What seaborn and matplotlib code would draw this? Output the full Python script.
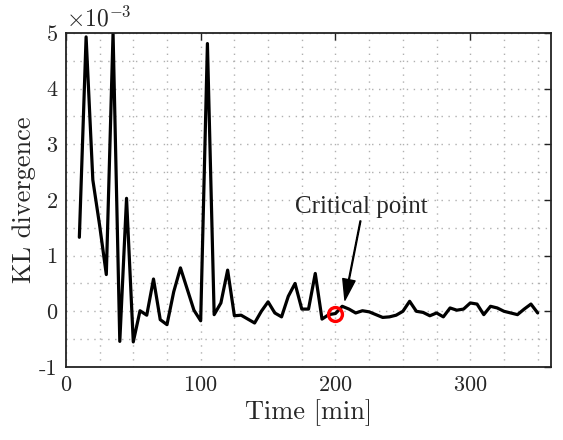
import numpy as np
import pandas as pd
import seaborn as sns
import matplotlib.pyplot as plt
from matplotlib.ticker import MultipleLocator, FuncFormatter

# Time axis [min] and KL divergence (in units of 1e-3)
time_min = [10, 15, 20, 25, 30, 35, 40, 45, 50, 55,
            60, 65, 70, 75, 80, 85, 90, 95, 100, 105,
            110, 115, 120, 125, 130, 135, 140, 145, 150, 155,
            160, 165, 170, 175, 180, 185, 190, 195, 200, 205,
            210, 215, 220, 225, 230, 235, 240, 245, 250, 255,
            260, 265, 270, 275, 280, 285, 290, 295, 300, 305,
            310, 315, 320, 325, 330, 335, 340, 345, 350]
kl_e3 = [1.33, 4.93, 2.36, 1.55, 0.66, 5.0, -0.54, 2.03, -0.55, 0.01,
         -0.07, 0.58, -0.15, -0.24, 0.35, 0.78, 0.40, 0.02, -0.17, 4.81,
         -0.06, 0.15, 0.74, -0.08, -0.07, -0.14, -0.21, 0.0, 0.17, -0.03,
         -0.10, 0.27, 0.50, 0.04, 0.04, 0.68, -0.14, -0.06, -0.04, 0.09,
         0.04, -0.03, 0.01, -0.01, -0.06, -0.11, -0.10, -0.07, 0.0, 0.18,
         0.0, -0.02, -0.08, -0.03, -0.10, 0.06, 0.02, 0.04, 0.15, 0.13,
         -0.06, 0.09, 0.06, 0.0, -0.03, -0.06, 0.04, 0.13, -0.03]
scale = 1e-3

crit_time = 200
crit_kl_e3 = -0.04
annot_text = "Critical point"

x_ticks = [0, 100, 200, 300]
y_ticks = [-1, 0, 1, 2, 3, 4, 5]

sns.set_style("white")
plt.rcParams['font.family'] = 'serif'
plt.rcParams['font.serif'] = ['cmr10', 'DejaVu Serif']
plt.rcParams['mathtext.fontset'] = 'cm'
plt.rcParams['axes.unicode_minus'] = False
plt.rcParams['axes.formatter.use_mathtext'] = True

df = pd.DataFrame({'time': time_min, 'kl': np.array(kl_e3) * scale})

fig = plt.figure(figsize=(5.63, 4.40), dpi=100)
ax = fig.add_axes([0.117, 0.166, 0.862, 0.759])

sns.lineplot(data=df, x='time', y='kl', color='black', linewidth=2.3, ax=ax)
ax.plot([crit_time], [crit_kl_e3 * scale], marker='o', markersize=10,
        markerfacecolor='none', markeredgecolor='red', markeredgewidth=2.4,
        linestyle='none', zorder=5)

ax.annotate(annot_text, xy=(207, 0.2 * scale), xytext=(219, 1.88 * scale),
            ha='center', va='center', fontsize=18, family='Liberation Serif',
            arrowprops=dict(facecolor='black', edgecolor='black', width=0.6,
                            headwidth=9, headlength=15, shrink=0.0))

ax.set_xlim(0, 360)
ax.set_ylim(-1 * scale, 5 * scale)
ax.set_xticks(x_ticks)
ax.set_yticks([v * scale for v in y_ticks])
ax.xaxis.set_minor_locator(MultipleLocator(25))
ax.yaxis.set_minor_locator(MultipleLocator(0.5 * scale))
ax.yaxis.set_major_formatter(FuncFormatter(lambda v, p: f"{v / scale:g}"))

ax.grid(True, which='both', linestyle=(0, (1, 4)), color='#b0b0b0', linewidth=1.0)
ax.tick_params(which='major', direction='in', length=5, width=1.0,
               top=True, right=True, labelsize=16, color='#222222', pad=6)
ax.tick_params(which='minor', length=0)
for s in ax.spines.values():
    s.set_color('#222222')
    s.set_linewidth(1.3)

ax.set_xlabel('Time [min]', fontsize=19, labelpad=3)
ax.set_ylabel('KL divergence', fontsize=19, labelpad=2)
ax.text(0.0, 1.005, r'$\times 10^{-3}$', transform=ax.transAxes,
        ha='left', va='bottom', fontsize=17)

fig.savefig('out.png', dpi=100)
